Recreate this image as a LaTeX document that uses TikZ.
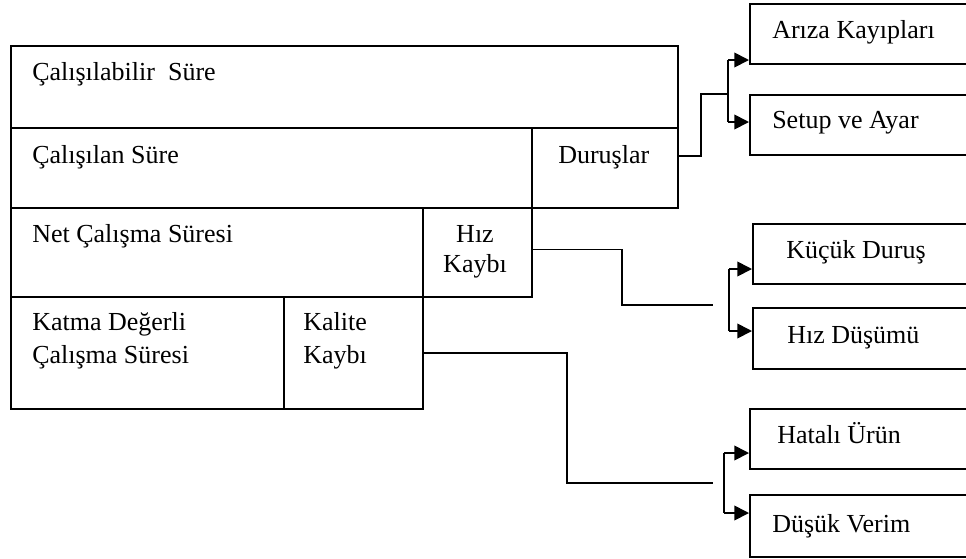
\documentclass[tikz,border=0pt]{standalone}
\usepackage{fontspec}
\setmainfont{Liberation Serif}
\usetikzlibrary{arrows.meta,calc}

\tikzset{
  cell/.style={draw, rectangle, line width=1.3pt, inner sep=0pt, anchor=north west},
  txt/.style={anchor=base west, inner sep=0pt},
  wire/.style={line width=1.3pt},
  arr/.style={wire, -{Triangle[length=11pt,width=11pt]}}
}

\begin{document}
\begin{tikzpicture}[x=0.75pt, y=-0.75pt, font=\fontsize{19.5}{23.5}\selectfont]
\useasboundingbox (0,0) rectangle (966,558);

% time blocks on the left
\node[cell, minimum width=500.25pt, minimum height=61.5pt] (tot) at (10,45) {};
\node[cell, minimum width=390.75pt, minimum height=60pt] (cal) at (10,127) {};
\node[cell, minimum width=109.5pt, minimum height=60pt] (dur) at (531,127) {};
\node[cell, minimum width=309pt, minimum height=66.75pt] (net) at (10,207) {};
\node[cell, minimum width=81.75pt, minimum height=66.75pt] (hiz) at (422,207) {};
\node[cell, minimum width=204.75pt, minimum height=84pt] (kat) at (10,296) {};
\node[cell, minimum width=104.25pt, minimum height=84pt] (kal) at (283,296) {};

\node[txt] (tot-t) at (32,80) {Çalışılabilir\ \ Süre};
\node[txt] (cal-t) at (32,163) {Çalışılan Süre};
\node[txt] (dur-t) at (558,163) {Duruşlar};
\node[txt] (net-t) at (32,242) {Net Çalışma Süresi};
% two-line labels sit on their last baseline
\node[anchor=base, inner sep=0pt, align=center, font=\fontsize{19.5}{22.5}\selectfont] (hiz-t) at (475,272) {Hız\\Kaybı};
\node[txt, align=left, font=\fontsize{19.5}{24.75}\selectfont] (kat-t) at (32,363) {Katma Değerli\\Çalışma Süresi};
\node[txt, align=left, font=\fontsize{19.5}{24.75}\selectfont] (kal-t) at (303,363) {Kalite\\Kaybı};

% loss boxes on the right
\node[cell, minimum width=169.5pt, minimum height=45pt] (ariza) at (749,3) {};
\node[cell, minimum width=169.5pt, minimum height=45pt] (setup) at (749,94) {};
\node[cell, minimum width=167.25pt, minimum height=45pt] (kucuk) at (752,223) {};
\node[cell, minimum width=167.25pt, minimum height=45.75pt] (hizd) at (752,307) {};
\node[cell, minimum width=169.5pt, minimum height=45pt] (hatali) at (749,408) {};
\node[cell, minimum width=169.5pt, minimum height=46.5pt] (dusuk) at (749,494) {};

\node[txt] (ariza-t) at (772,38) {Arıza Kayıpları};
\node[txt] (setup-t) at (772,128) {Setup ve Ayar};
\node[txt] (kucuk-t) at (786,258) {Küçük Duruş};
\node[txt] (hizd-t) at (787,343) {Hız Düşümü};
\node[txt] (hatali-t) at (777,443) {Hatalı Ürün};
\node[txt] (dusuk-t) at (772,532) {Düşük Verim};

% Duruslar -> ariza / setup
\coordinate (d0) at ($(dur.east)+(0,-12)$);
\coordinate (db) at (701,94);
\coordinate (d1) at (728,94);
\coordinate (s1a) at (728,60);
\coordinate (s1b) at (728,122);
\draw[wire] (d0) -| (db) -- (d1);
\draw[wire] (s1a) -- (s1b);
\draw[arr] (s1a) -- (s1a -| ariza.west);
\draw[arr] (s1b) -- (s1b -| setup.west);

% hiz kaybi -> kucuk durus / hiz dusumu
\coordinate (h0) at ($(hiz.east)+(0,-3)$);
\coordinate (hb) at (622,305);
\coordinate (h1) at (713,305);
\coordinate (s2a) at (729,269);
\coordinate (s2b) at (729,331);
\draw[wire] (h0) -| (hb) -- (h1);
\draw[wire] (s2a) -- (s2b);
\draw[arr] (s2a) -- (s2a -| kucuk.west);
\draw[arr] (s2b) -- (s2b -| hizd.west);

% kalite kaybi -> hatali urun / dusuk verim
\coordinate (kb) at (567,483);
\coordinate (k1) at (713,483);
\coordinate (s3a) at (724,453);
\coordinate (s3b) at (724,513);
\draw[wire] (kal.east) -| (kb) -- (k1);
\draw[wire] (s3a) -- (s3b);
\draw[arr] (s3a) -- (s3a -| hatali.west);
\draw[arr] (s3b) -- (s3b -| dusuk.west);
\end{tikzpicture}
\end{document}
